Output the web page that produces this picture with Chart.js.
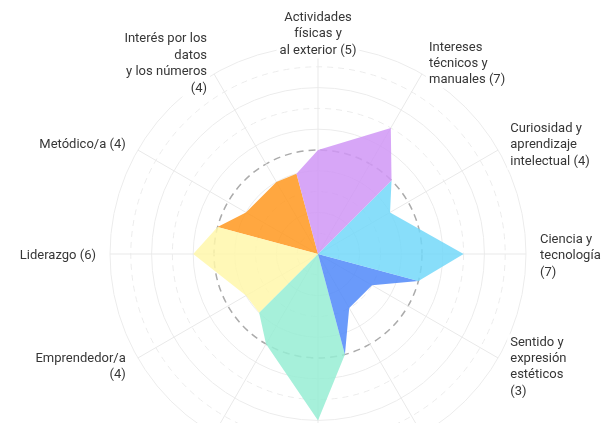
<!DOCTYPE html>
<html><head><meta charset="utf-8">
<script src="https://cdn.jsdelivr.net/npm/chart.js@4/dist/chart.umd.min.js"></script>
<style>
html,body{margin:0;padding:0;background:#fff;overflow:hidden;width:606px;height:423px}
canvas{display:block}
</style>
</head><body>
<canvas id="c" width="606" height="500"></canvas>
<script>
// 12 categories, clockwise from the top (line breaks as in the picture)
const categories = [
  "Actividades\nfísicas y\nal exterior (5)",
  "Intereses\ntécnicos y\nmanuales (7)",
  "Curiosidad y\naprendizaje\nintelectual (4)",
  "Ciencia y\ntecnología\n(7)",
  "Sentido y\nexpresión\nestéticos\n(3)",
  "Creatividad (3)",
  "Ayudar a los demás (8)",
  "Trabajo en equipo (5)",
  "Emprendedor/a\n(4)",
  "Liderazgo (6)",
  "Metódico/a (4)",
  "Interés por los\ndatos\ny los números\n(4)"
];
const scores = [5, 7, 4, 7, 3, 3, 8, 5, 4, 6, 4, 4];
// value where two neighbouring groups meet (before group 0..5)
const boundaries = [4, 5, 5, 5, 4, 5];
const groupNames = ["Realista", "Investigador", "Artístico", "Social", "Emprendedor", "Convencional"];
const groupColors = [
  "rgba(208,150,246,0.85)",
  "rgba(115,216,249,0.85)",
  "rgba(80,136,249,0.85)",
  "rgba(150,237,212,0.85)",
  "rgba(255,247,170,0.85)",
  "rgba(255,152,30,0.85)"
];
const scaleMax = 10;
const referenceRing = 5;

// 24 spokes: each category plus an unlabeled spoke between categories
const N = categories.length * 2;
const spokeLabels = categories.flatMap(c => [c.replace(/\n/g, ' '), '']);

const datasets = groupNames.map((name, g) => {
  const data = new Array(N).fill(0);
  data[(4 * g - 1 + N) % N] = boundaries[g];
  data[4 * g] = scores[2 * g];
  data[4 * g + 1] = null;
  data[4 * g + 2] = scores[2 * g + 1];
  data[(4 * g + 3) % N] = boundaries[(g + 1) % boundaries.length];
  return {
    label: name,
    data,
    backgroundColor: groupColors[g],
    borderWidth: 0,
    pointRadius: 0,
    pointHoverRadius: 0,
    fill: true,
    spanGaps: true,
    tension: 0
  };
});

const labelPlugin = {
  id: 'axisLabels',
  afterDatasetsDraw(chart) {
    const r = chart.scales.r;
    const ctx = chart.ctx;
    const lh = 16.4;
    ctx.save();
    ctx.font = '13px Roboto, "Noto Sans", sans-serif';
    categories.forEach((cat, k) => {
      const i = 2 * k;
      const lines = cat.split('\n');
      const p = r.getPointPosition(i, r.drawingArea + 14);
      const deg = Math.round(i * 360 / N) % 360;
      const align = (deg === 0 || deg === 180) ? 'center' : (deg < 180 ? 'left' : 'right');
      const w = Math.max(...lines.map(l => ctx.measureText(l).width));
      const h = lines.length * lh;
      const left = align === 'center' ? p.x - w / 2 : (align === 'left' ? p.x : p.x - w);
      const top = p.y - h / 2 + 2;
      ctx.fillStyle = '#ffffff';
      ctx.fillRect(left - 3, top, w + 6, h);
      ctx.fillStyle = '#363636';
      ctx.textAlign = align;
      ctx.textBaseline = 'middle';
      lines.forEach((l, j) => ctx.fillText(l, p.x, top + lh * (j + 0.5)));
    });
    ctx.restore();
  }
};

new Chart(document.getElementById('c'), {
  type: 'radar',
  data: { labels: spokeLabels, datasets },
  options: {
    responsive: false,
    devicePixelRatio: 1,
    animation: false,
    layout: { padding: { left: 110, right: 80, top: 46, bottom: 38 } },
    plugins: { legend: { display: false }, tooltip: { enabled: false } },
    elements: { line: { tension: 0, borderWidth: 0 }, point: { radius: 0 } },
    scales: {
      r: {
        min: 0,
        max: scaleMax,
        ticks: { display: false, stepSize: 1 },
        pointLabels: { display: false },
        angleLines: {
          color: '#e9e9e9',
          lineWidth: (c) => (c.index % 2 === 0 ? 1 : 0)
        },
        grid: {
          circular: true,
          color: (c) => (c.tick && c.tick.value === referenceRing ? '#ababab' : '#ececec'),
          lineWidth: (c) => (c.tick && c.tick.value === referenceRing ? 1.5 : 1)
        },
        border: {
          dash: (c) => {
            const v = c.tick ? c.tick.value : 0;
            if (v === referenceRing) return [7, 5];
            return v % 2 === 1 ? [6, 5] : [];
          }
        }
      }
    }
  },
  plugins: [labelPlugin]
});
</script>
</body></html>
